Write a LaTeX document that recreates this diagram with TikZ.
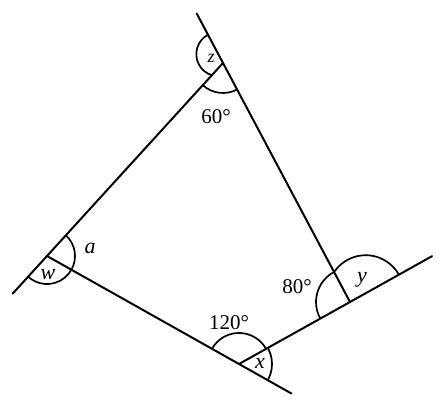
\documentclass[tikz,border=0pt]{standalone}
\usepackage{fontspec}
\setmainfont{Liberation Serif}
\usetikzlibrary{angles,calc}
\tikzset{
  side/.style={line width=2pt,line cap=round},
  anglearc/.style={draw,line width=1.7pt},
  lbl/.style={font=\fontsize{21}{24}\selectfont,inner sep=0pt},
  var/.style={font=\fontsize{22}{24}\selectfont\itshape,inner sep=0pt}
}

\begin{document}
\begin{tikzpicture}[x=1pt,y=1pt]
    \path[use as bounding box] (0,0) rectangle (447,404);
    % corners
    \coordinate (V1) at (223,341);
    \coordinate (V2) at (350,102);
    \coordinate (V3) at (239,40);
    \coordinate (V4) at (47,148);
    % produced ends
    \coordinate (E1) at ($(V1)!-56pt!(V2)$);
    \coordinate (E2) at ($(V4)!-51pt!(V1)$);
    \coordinate (E3) at ($(V3)!-60pt!(V4)$);
    \coordinate (E4) at ($(V2)!-94pt!(V3)$);
    \draw[side] (E1) -- (V2);
    \draw[side] (E2) -- (V1);
    \draw[side] (V4) -- (E3);
    \draw[side] (V3) -- (E4);
    % arcs
    \draw[anglearc] ($(V1)!10pt!(E1)$) ++(118:22) arc[start angle=118,end angle=253,radius=22];
    \pic[anglearc,angle radius=30pt] {angle=V4--V1--V2};
    \pic[anglearc,angle radius=28pt] {angle=E2--V4--V3};
    \pic[anglearc,angle radius=28pt] {angle=V3--V4--V1};
    \pic[anglearc,angle radius=31pt] {angle=V2--V3--V4};
    \pic[anglearc,angle radius=33pt] {angle=E3--V3--V2};
    \pic[anglearc,angle radius=34pt] {angle=V1--V2--V3};
    \draw[anglearc] ($(V2)!18pt!(E4)$) ++(146.2:38) arc[start angle=146.2,end angle=29.4,radius=38];
    % labels
    \node[var,font=\fontsize{18}{20}\selectfont\itshape] (tz) at (211,346) {z};
    \node[lbl] (t60) at (216,287) {60\textdegree};
    \node[var] (ta) at (90,156) {a};
    \node[var] (tw) at (48,129) {w};
    \node[lbl] (t120) at (229,81) {120\textdegree};
    \node[var] (tx) at (260,41) {x};
    \node[lbl] (t80) at (297,117) {80\textdegree};
    \node[var] (ty) at (362,124) {y};
\end{tikzpicture}
\end{document}
